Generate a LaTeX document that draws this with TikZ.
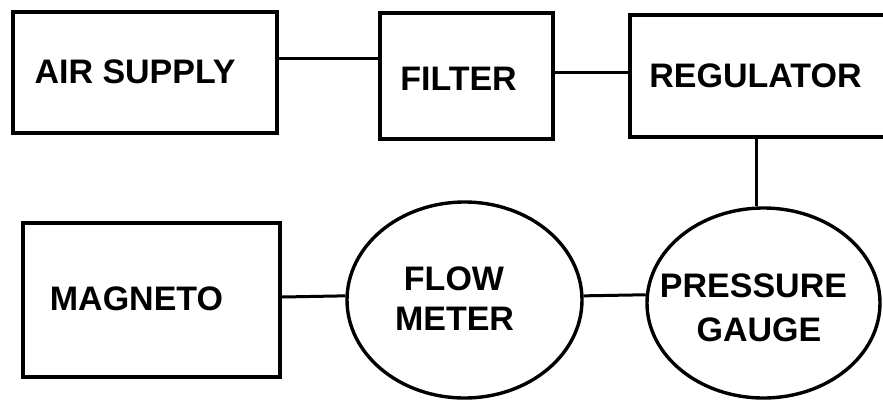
\documentclass[tikz,border=0pt]{standalone}
\usepackage{fontspec}
\setmainfont{Liberation Sans}
\usetikzlibrary{shapes.geometric}
\tikzset{
  boxshape/.style={draw=black, line width=3.6pt, rectangle, inner sep=0pt, fill=none},
  ovalshape/.style={draw=black, line width=3.4pt, ellipse, inner sep=0pt},
  lbl/.style={anchor=base, inner sep=0pt, font=\fontsize{34}{40}\selectfont\bfseries},
  wire/.style={line width=3pt, black}
}
\begin{document}
\begin{tikzpicture}[x=1pt,y=-1pt]
\useasboundingbox[fill=white] (0,0) rectangle (883,402);
% boxes
\node[boxshape, minimum width=264pt, minimum height=121pt] (air) at (145,72.5) {};
\node[boxshape, minimum width=173pt, minimum height=126pt] (filter) at (466.5,76) {};
\node[boxshape, minimum width=270pt, minimum height=122pt] (reg) at (765,76) {};
\node[boxshape, minimum width=257pt, minimum height=154pt] (mag) at (151.5,300) {};
\node[ovalshape, minimum width=235pt, minimum height=196pt] (flow) at (464.5,300) {};
\node[ovalshape, minimum width=233pt, minimum height=190pt] (press) at (763.5,303) {};
% labels
\node[lbl] (tair) at (135,83) {AIR SUPPLY};
\node[lbl] (tfilter) at (458.5,90) {FILTER};
\node[lbl] (treg) at (755.5,87) {REGULATOR};
\node[lbl] (tmag) at (136.5,310) {MAGNETO};
\node[lbl] (tflow1) at (454,290) {FLOW};
\node[lbl] (tflow2) at (454.5,330) {METER};
\node[lbl] (tpress1) at (753.5,297) {PRESSURE};
\node[lbl] (tpress2) at (759,341) {GAUGE};
% connectors
\draw[wire] ([yshift=14.5pt]air.east) -- ([yshift=14.5pt]air.east -| filter.west);
\draw[wire] ([yshift=4pt]filter.east) -- ([yshift=4pt]filter.east -| reg.west);
\draw[wire] ([xshift=-7.5pt]press.north) -- ([xshift=-7.5pt]press.north |- reg.south);
\draw[wire] ([yshift=3pt]mag.east) -- (flow.178.5);
\draw[wire] (flow.2.4) -- (press.176);
\end{tikzpicture}
\end{document}
